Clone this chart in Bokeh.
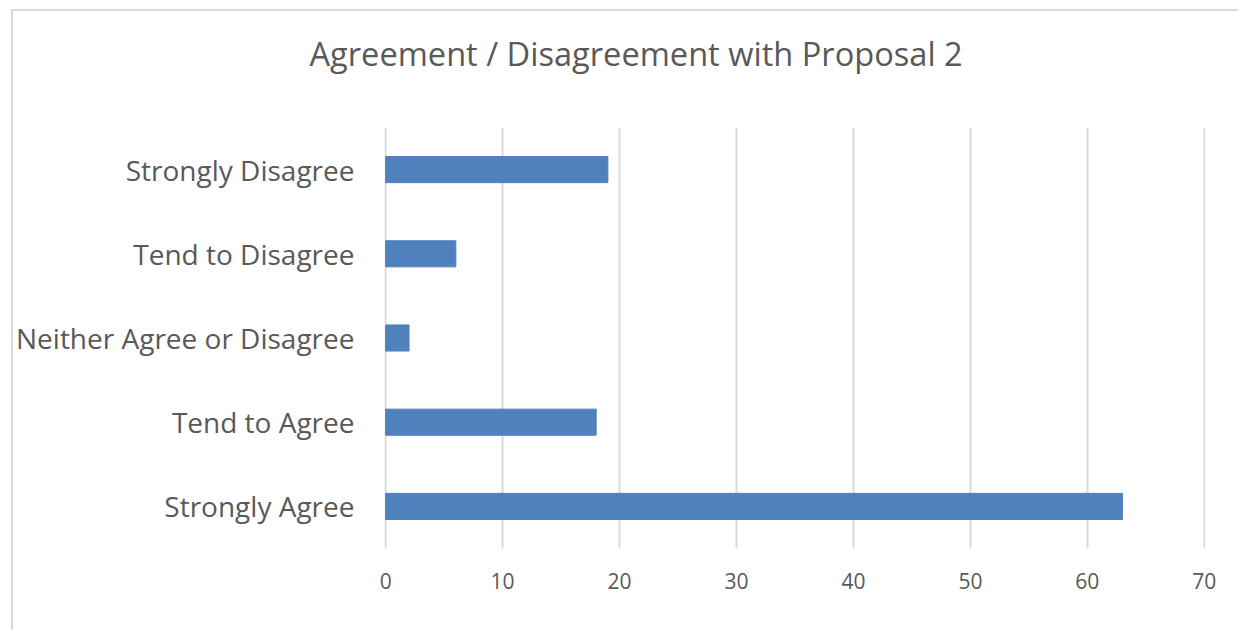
from bokeh.plotting import figure
from bokeh.models import FactorRange, Range1d, FixedTicker, ColumnDataSource, Title
from bokeh.embed import file_html
from bokeh.resources import INLINE

categories = ["Strongly Agree", "Tend to Agree", "Neither Agree or Disagree",
              "Tend to Disagree", "Strongly Disagree"]
values = [63, 18, 2, 6, 19]
x_ticks = [0, 10, 20, 30, 40, 50, 60, 70]
title_text = "Agreement / Disagreement with Proposal 2"

FONT = "Open Sans"
GRAY = "#595959"

src = ColumnDataSource(dict(cat=categories, val=values))

p = figure(width=1227, height=621, output_backend="svg", toolbar_location=None,
           title=None,
           y_range=FactorRange(factors=categories, range_padding=0),
           x_range=Range1d(-0.1, 70.1),
           min_border_left=371, min_border_right=35, min_border_top=116,
           min_border_bottom=84)
p.styles = {"border-left": "2px solid #d9d9d9", "border-top": "2px solid #d9d9d9",
            "border-right": "none", "border-bottom": "none",
            "margin-left": "11px", "margin-top": "9px"}

p.hbar(y="cat", right="val", left=0, height=0.31, source=src,
       fill_color="#4f81bd", line_color="#4f81bd")

# spacer between the frame and the title
spacer = Title(text=" ", text_font_size="1px", standoff=49)
p.add_layout(spacer, "above")
main_title = Title(text=title_text, text_font=FONT, text_font_size="32.6px",
                   text_font_style="normal", text_color=GRAY,
                   align="left", offset=-75, standoff=0)
p.add_layout(main_title, "above")

p.outline_line_color = None
p.ygrid.grid_line_color = None
p.xgrid.grid_line_color = "#d9d9d9"
p.xgrid.grid_line_width = 2
p.xaxis.ticker = FixedTicker(ticks=x_ticks)
p.xaxis.axis_line_color = None
p.xaxis.major_tick_line_color = None
p.xaxis.minor_tick_line_color = None
p.xaxis.major_tick_out = 0
p.xaxis.major_label_standoff = 24
p.xaxis.major_label_text_font = FONT
p.xaxis.major_label_text_font_size = "21px"
p.xaxis.major_label_text_color = GRAY

p.yaxis.axis_line_color = None
p.yaxis.major_tick_line_color = None
p.yaxis.major_tick_out = 0
p.yaxis.major_label_standoff = 30
p.yaxis.major_label_text_font = FONT
p.yaxis.major_label_text_font_size = "28px"
p.yaxis.major_label_text_color = GRAY

open("out.html", "w").write(file_html(p, INLINE))
